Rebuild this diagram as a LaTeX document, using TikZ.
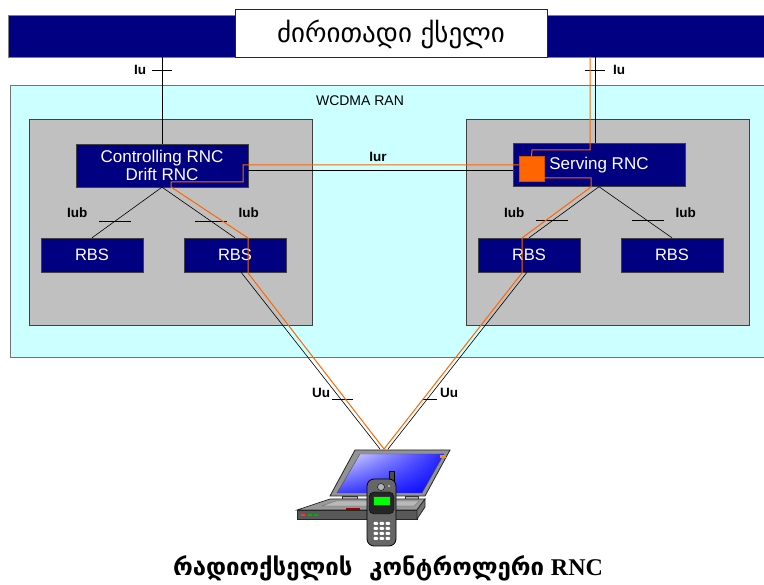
\documentclass[tikz,border=0pt]{standalone}
\usepackage{fontspec}
\setmainfont{Liberation Sans}
\newfontfamily\geofont{DejaVu Sans}
\newfontfamily\capfont{Liberation Serif}
\usetikzlibrary{positioning,shapes,shadings}

\definecolor{corenavy}{RGB}{0,0,128}
\definecolor{rancyan}{RGB}{204,255,255}
\definecolor{boxgray}{RGB}{192,192,192}
\definecolor{pathorange}{RGB}{255,102,0}

\tikzset{
  navybox/.style={draw=black!75,fill=corenavy,text=white,inner sep=0pt},
  rbsbox/.style={navybox,minimum width=102pt,minimum height=34pt,font=\fontsize{16.5}{16.5}\selectfont},
  rncbox/.style={navybox,minimum width=172pt,minimum height=43pt,align=center,font=\fontsize{17}{18}\selectfont},
  grpbox/.style={draw=black!75,fill=boxgray,minimum width=283pt,minimum height=206pt,inner sep=0pt},
  iflabel/.style={font=\bfseries\fontsize{13.5}{13.5}\selectfont,inner sep=1pt},
  link/.style={draw=black,line width=0.6pt},
  route/.style={draw=pathorange,line width=1pt,line join=miter},
}

\begin{document}
\begin{tikzpicture}[x=1pt,y=-1pt]
\useasboundingbox (0,0) rectangle (764,585);

% core network bar
\node[fill=corenavy,draw=black!50,anchor=north west,minimum width=770pt,minimum height=42pt,inner sep=0pt] (core) at (8,15) {};
\node[draw=black!85,line width=1pt,fill=white,minimum width=312pt,minimum height=48pt,inner sep=0pt,font=\geofont\fontsize{27}{27}\selectfont] (title) at (391,34) {ძირითადი ქსელი};

% radio access network
\node[fill=rancyan,draw=black!55,anchor=north west,minimum width=770pt,minimum height=272pt,inner sep=0pt] (ran) at (10,85) {};
\node[font=\fontsize{14}{14}\selectfont] (ranname) at (360,101) {WCDMA RAN};

\node[grpbox] (grpL) at (170.5,222) {};
\node[grpbox] (grpR) at (607.5,222) {};

\node[rncbox] (crnc) at (162,165.5) {Controlling RNC\\Drift RNC};
\node[rbsbox] (rbsLa) at (92,255) {RBS};
\node[rbsbox] (rbsLb) at (235,255) {RBS};

\node[rncbox] (srnc) at (599,165) {Serving RNC};
\node[rbsbox] (rbsRa) at (529,255) {RBS};
\node[rbsbox] (rbsRb) at (672,255) {RBS};

\node[fill=pathorange,draw=pathorange!80!black,minimum size=25pt,inner sep=0pt] (sq) at (531.5,169) {};

\coordinate (mobile) at (384,449);

% Iu
\draw[link] (crnc.north |- core.south) -- (crnc.north);
\draw[link] (152,70) -- (172,70);
\node[iflabel] (iuL) at (140,70) {Iu};
\draw[link] ([xshift=-4pt]srnc.north |- core.south) -- ([xshift=-4pt]srnc.north);
\draw[link] (585,70) -- (605,70);
\node[iflabel] (iuR) at (619,70) {Iu};

% Iur
\draw[link] ([yshift=-4.5pt]crnc.east) -- ([yshift=-5pt]srnc.west);
\node[iflabel] (iur) at (378,157) {Iur};

% Iub
\foreach \rnc/\rbs/\side in {crnc/rbsLa/-1,crnc/rbsLb/1,srnc/rbsRa/-1,srnc/rbsRb/1} {
  \draw[link] (\rnc.south) -- coordinate[pos=0.667] (t-\rbs) (\rbs.north);
  \draw[link] ([xshift=-16pt]t-\rbs) -- ([xshift=16pt]t-\rbs);
  \node[iflabel] at ([xshift=\side*38pt,yshift=8pt]t-\rbs) {Iub};
}

% Uu
\draw[link] ([xshift=6pt]rbsLb.south) -- ([xshift=-4pt]mobile);
\draw[link] ([xshift=-2pt]rbsRa.south) -- ([xshift=4pt]mobile);
\draw[link] (332,399) -- (353,399);
\node[iflabel] (uuL) at (321,393) {Uu};
\draw[link] (422,399) -- (437,399);
\node[iflabel] (uuR) at (449,393) {Uu};

% signalling route through the serving RNC
\draw[route] (590,57) -- (590,150) -- (532,150) -- (sq.north);
\draw[route] ([yshift=4pt]sq.west) -- (243,165) -- (243,182) -- (171,182) -- (171,187)
  -- (248,238) -- (248,273) -- (mobile);
\draw[route] (544,178) -- (591,178) -- (591,187) -- (522,238) -- (522,273) -- (mobile);

% laptop
\filldraw[fill=gray!85,draw=black!85,line width=0.8pt] (355,450) -- (450,450) -- (425,496) -- (330,496) -- cycle;
\shade[upper left=blue!10!white,upper right=blue!85,lower left=blue!75,lower right=blue]
  (360,454) -- (444,454) -- (422,493) -- (337,493) -- cycle;
\draw[black!70,line width=0.4pt] (360,454) -- (444,454) -- (422,493) -- (337,493) -- cycle;
\fill[orange!90!yellow] (440,455) rectangle (446,458);
\filldraw[fill=gray!60,draw=black!80] (342,496) rectangle (357,500);
\filldraw[fill=gray!60,draw=black!80] (405,496) rectangle (418,500);
\filldraw[fill=gray!80,draw=black!85,line width=0.7pt] (330,499) -- (425,499) -- (417,510) -- (297,510) -- cycle;
\filldraw[fill=gray!55,draw=black!60,line width=0.3pt] (336,501) -- (419,501) -- (414,506) -- (322,506) -- cycle;
\fill[red!60!black] (346,508) rectangle (360,511);
\filldraw[fill=black!65,draw=black!85,line width=0.7pt] (297,510) -- (417,510) -- (417,519) -- (297,519) -- cycle;
\filldraw[fill=black!55,draw=black!85,line width=0.7pt] (417,510) -- (425,499) -- (425,507) -- (417,519) -- cycle;
\fill[red!80] (301,514) rectangle (305,516);
\fill[green!70!black] (308,514) rectangle (312,516);
\fill[green!70!black] (314,514) rectangle (318,516);

% phone
\filldraw[fill=black!70,draw=black] (389,471) rectangle (394,482);
\filldraw[fill=black!60,draw=black,line width=0.8pt,rounded corners=7pt] (367,479) rectangle (396,546);
\filldraw[fill=black!85,draw=black,rounded corners=5pt] (369,492) rectangle (394,514);
\filldraw[fill=gray!60,draw=black] (381,487) circle (3.5pt);
\fill[gray!40] (389,486) circle (1.2pt);
\filldraw[fill=green,draw=black!80] (373,496) rectangle (390,505);
\foreach \r in {0,...,3}
  \foreach \c in {0,...,2}
    \fill[white,rounded corners=0.8pt] (373.5+\c*6,522+\r*5) rectangle ++(4.5,2.8);

% caption
\node[font=\fontsize{24}{24}\selectfont] (caption) at (388,568)
  {{\geofont\bfseries რადიოქსელის\ \ კონტროლერი} {\capfont\bfseries RNC}};
\end{tikzpicture}
\end{document}
